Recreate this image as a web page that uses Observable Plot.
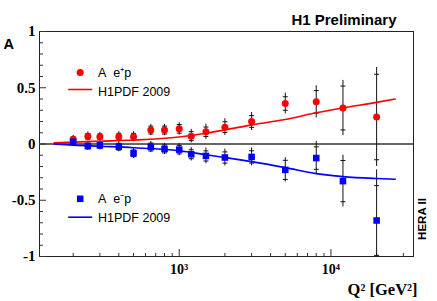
<!DOCTYPE html>
<html>
<head>
<meta charset="utf-8">
<script src="https://cdn.jsdelivr.net/npm/d3@7"></script>
<script src="https://cdn.jsdelivr.net/npm/@observablehq/plot@0.6"></script>
<style>
  html, body { margin: 0; padding: 0; background: white; }
</style>
</head>
<body>
<div id="chart"></div>
<script>
// Q^2 bins (GeV^2)
const q2 = [200, 250, 300, 400, 500, 650, 800, 1000, 1200, 1500, 2000, 3000, 5000, 8000, 12000, 20000];
// Asymmetry A for e+p
const aPlus = [0.042, 0.068, 0.065, 0.065, 0.065, 0.124, 0.124, 0.135, 0.07, 0.109, 0.15, 0.20, 0.36, 0.375, 0.32, 0.24];
const aPlusTot = [0.035, 0.04, 0.04, 0.045, 0.045, 0.05, 0.05, 0.055, 0.06, 0.068, 0.075, 0.08, 0.093, 0.143, 0.245, 0.44];
const aPlusStat = [0.02, 0.025, 0.025, 0.03, 0.03, 0.035, 0.035, 0.038, 0.04, 0.042, 0.048, 0.052, 0.06, 0.1, 0.195, 0.38];
// Asymmetry A for e-p
const aMinus = [0.02, -0.018, -0.012, -0.024, -0.083, -0.027, -0.044, -0.05, -0.091, -0.106, -0.12, -0.115, -0.23, -0.125, -0.33, -0.68];
const aMinusTot = [0.035, 0.04, 0.04, 0.045, 0.045, 0.05, 0.05, 0.055, 0.06, 0.07, 0.075, 0.08, 0.108, 0.148, 0.23, 0.45];
const aMinusStat = [0.02, 0.025, 0.025, 0.03, 0.03, 0.035, 0.035, 0.038, 0.04, 0.045, 0.05, 0.055, 0.085, 0.1, 0.183, 0.31];
// H1PDF 2009 predictions
const curveQ2 = [150, 200, 300, 500, 1000, 1500, 2000, 3000, 5000, 8000, 12000, 20000, 26500];
const curvePlus = [0.01, 0.017, 0.025, 0.035, 0.062, 0.095, 0.125, 0.17, 0.218, 0.277, 0.32, 0.37, 0.40];
const curveMinus = [0.0, -0.01, -0.02, -0.033, -0.06, -0.095, -0.12, -0.157, -0.21, -0.263, -0.29, -0.307, -0.313];
// axis ticks
const xMajor = [1000, 10000];
const xMinor = [200, 300, 400, 500, 600, 700, 800, 900, 2000, 3000, 4000, 5000, 6000, 7000, 8000, 9000, 20000, 30000];
const yMajor = [-1, -0.5, 0, 0.5, 1];
const yMinor = [-0.9, -0.8, -0.7, -0.6, -0.4, -0.3, -0.2, -0.1, 0.1, 0.2, 0.3, 0.4, 0.6, 0.7, 0.8, 0.9];
const zeroLine = [0];
// texts
const title = ["H1 Preliminary"];
const yTitle = ["A"];
const xTitle = ["Q\u00B2 [GeV\u00B2]"];
const sideLabel = ["HERA II"];
const legPlus = ["A\u00A0\u00A0e\u207Ap"];
const legMinus = ["A\u00A0\u00A0e\u207Bp"];
const legModel = ["H1PDF 2009"];

const plus = q2.map((q, i) => ({q, a: aPlus[i], tot: aPlusTot[i], stat: aPlusStat[i]}));
const minus = q2.map((q, i) => ({q, a: aMinus[i], tot: aMinusTot[i], stat: aMinusStat[i]}));
const cPlus = curveQ2.map((q, i) => ({q, a: curvePlus[i]}));
const cMinus = curveQ2.map((q, i) => ({q, a: curveMinus[i]}));

// horizontal-line symbol (for stat error ticks and legend lines)
const hline = {draw(ctx, size) { const w = Math.sqrt(size / Math.PI); ctx.moveTo(-w, 0); ctx.lineTo(w, 0); }};
const sup = {"3": "\u00B3", "4": "\u2074"};
const serif = "Liberation Serif, Times New Roman, serif";
const sans = "Liberation Sans, Arial, Helvetica, sans-serif";

const statTicks = (data) => data.flatMap(d => [{q: d.q, a: d.a - d.stat}, {q: d.q, a: d.a + d.stat}]);

const chart = Plot.plot({
  width: 437,
  height: 301,
  marginLeft: 39,
  marginRight: 24,
  marginTop: 31,
  marginBottom: 45,
  style: {background: "white", fontFamily: sans, color: "black"},
  x: {type: "log", domain: [120, 35000]},
  y: {domain: [-1, 1]},
  marks: [
    Plot.frame({stroke: "#222", strokeWidth: 1}),
    Plot.ruleY(zeroLine, {stroke: "#333", strokeWidth: 1.6}),
    // ticks (inward)
    Plot.axisX(xMinor, {tickSize: 3, dy: -3, tickFormat: () => "", label: null, stroke: "#333"}),
    Plot.axisX(xMajor, {tickSize: 7, dy: -7, tickFormat: () => "", label: null, stroke: "#333"}),
    Plot.axisY(yMinor, {tickSize: 4, dx: 4, tickFormat: () => "", label: null, stroke: "#333"}),
    Plot.axisY(yMajor, {tickSize: 7, dx: 7, tickFormat: () => "", label: null, stroke: "#333"}),
    // tick labels
    Plot.axisX(xMajor, {tickSize: 0, tickPadding: 8, label: null, tickFormat: d => "10" + sup[String(Math.round(Math.log10(d)))],
      fontFamily: serif, fontWeight: "bold", fontSize: 14}),
    Plot.axisY(yMajor, {tickSize: 0, tickPadding: 4, label: null, tickFormat: d => String(d),
      fontFamily: serif, fontWeight: "bold", fontSize: 15}),
    // error bars
    Plot.ruleX(plus, {x: "q", y1: d => d.a - d.tot, y2: d => d.a + d.tot, stroke: "#111", strokeWidth: 1, clip: true}),
    Plot.ruleX(minus, {x: "q", y1: d => d.a - d.tot, y2: d => d.a + d.tot, stroke: "#111", strokeWidth: 1, clip: true}),
    Plot.dot(statTicks(plus), {x: "q", y: "a", symbol: hline, r: 2.5, stroke: "#111", strokeWidth: 1, clip: true}),
    Plot.dot(statTicks(minus), {x: "q", y: "a", symbol: hline, r: 2.5, stroke: "#111", strokeWidth: 1, clip: true}),
    // model curves
    Plot.line(cPlus, {x: "q", y: "a", stroke: "#ff0000", strokeWidth: 1.6, curve: "monotone-x"}),
    Plot.line(cMinus, {x: "q", y: "a", stroke: "#0000ff", strokeWidth: 1.6, curve: "monotone-x"}),
    // data points
    Plot.dot(plus, {x: "q", y: "a", r: 3.5, fill: "#ff0000", stroke: "none"}),
    Plot.dot(minus, {x: "q", y: "a", r: 3.7, symbol: "square", fill: "#0000ff", stroke: "none"}),
    // legends
    Plot.dot(legPlus, {frameAnchor: "top-left", dx: 40.7, dy: 41, r: 3.5, fill: "#ff0000", stroke: "none"}),
    Plot.text(legPlus, {frameAnchor: "top-left", dx: 58.5, dy: 45.7, textAnchor: "start", lineAnchor: "bottom", fontSize: 12.5, fontFamily: sans}),
    Plot.dot(legModel, {frameAnchor: "top-left", dx: 40.7, dy: 58, symbol: hline, r: 12, stroke: "#ff0000", strokeWidth: 1.6}),
    Plot.text(legModel, {frameAnchor: "top-left", dx: 58.5, dy: 64, textAnchor: "start", lineAnchor: "bottom", fontSize: 12.5, fontFamily: sans}),
    Plot.dot(legMinus, {frameAnchor: "top-left", dx: 40.7, dy: 167.3, r: 3.7, symbol: "square", fill: "#0000ff", stroke: "none"}),
    Plot.text(legMinus, {frameAnchor: "top-left", dx: 58.5, dy: 171.3, textAnchor: "start", lineAnchor: "bottom", fontSize: 12.5, fontFamily: sans}),
    Plot.dot(legModel, {frameAnchor: "top-left", dx: 40.7, dy: 185.7, symbol: hline, r: 12, stroke: "#0000ff", strokeWidth: 1.6}),
    Plot.text(legModel, {frameAnchor: "top-left", dx: 58.5, dy: 190, textAnchor: "start", lineAnchor: "bottom", fontSize: 12.5, fontFamily: sans}),
    // titles
    Plot.text(title, {frameAnchor: "top-right", dx: -17, dy: -7, textAnchor: "end", lineAnchor: "bottom", fontSize: 15, fontWeight: "bold", fontFamily: sans}),
    Plot.text(yTitle, {frameAnchor: "top-left", dx: -36, dy: 17.5, textAnchor: "start", lineAnchor: "bottom", fontSize: 14.5, fontWeight: "bold", fontFamily: sans}),
    Plot.text(xTitle, {frameAnchor: "bottom-right", dx: 4, dy: 38, textAnchor: "end", lineAnchor: "bottom", fontSize: 16.5, fontWeight: "bold", fontFamily: serif}),
    Plot.text(sideLabel, {frameAnchor: "bottom-right", dx: 12, dy: -37.5, rotate: -90, textAnchor: "middle", lineAnchor: "bottom", fontSize: 11.5, fontWeight: "bold", fontFamily: sans})
  ]
});
document.getElementById("chart").appendChild(chart);
</script>
</body>
</html>
